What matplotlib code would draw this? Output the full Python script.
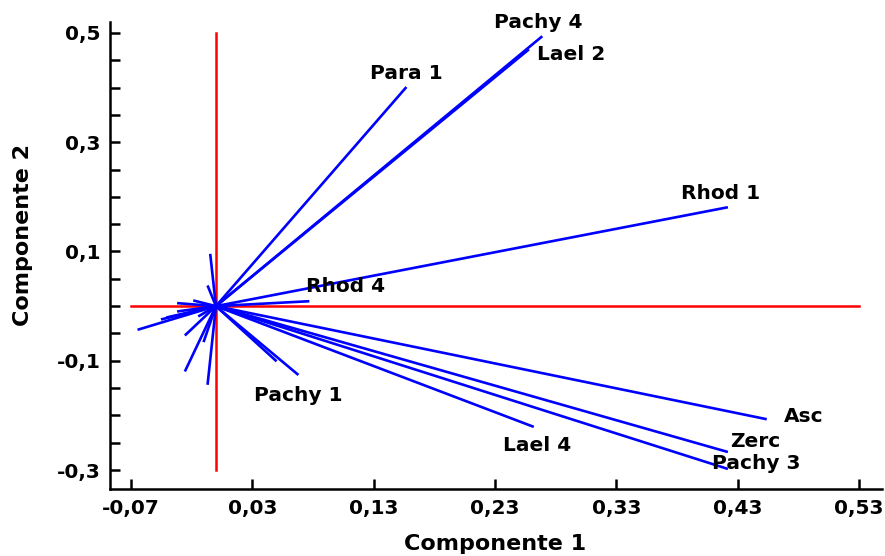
import matplotlib
matplotlib.use("Agg")
import matplotlib.pyplot as plt
from matplotlib.ticker import FixedLocator

plt.rcParams["font.family"] = ["DejaVu Sans"]
plt.rcParams["font.weight"] = "bold"

# loadings (Componente 1, Componente 2) for the labelled variables
names = ["Pachy 4", "Lael 2", "Para 1", "Rhod 1", "Rhod 4",
         "Asc", "Zerc", "Pachy 3", "Lael 4", "Pachy 1"]
comp1 = [0.269, 0.258, 0.157, 0.422, 0.077, 0.454, 0.422, 0.422, 0.262, 0.068]
comp2 = [0.494, 0.470, 0.401, 0.181, 0.009, -0.207, -0.267, -0.298, -0.221, -0.126]

# where each name sits (left edge, vertical centre)
label_x = [0.229, 0.265, 0.127, 0.383, 0.074, 0.468, 0.4237, 0.409, 0.2366, 0.0313]
label_y = [0.519, 0.460, 0.4256, 0.206, 0.0365, -0.2027, -0.248, -0.2886, -0.2557, -0.164]

# unlabelled variables clustered around the origin
small1 = [0.050, -0.0047, -0.0069, -0.032, -0.0187, -0.0646, -0.0453, -0.041,
          -0.032, -0.0146, -0.0256, -0.0102, -0.0256, -0.0069]
small2 = [-0.101, 0.0957, 0.0378, 0.0055, 0.0104, -0.0433, -0.0244, -0.021,
          -0.0098, -0.0189, -0.0537, -0.0659, -0.1196, -0.144]

x_ticks = [-0.07, 0.03, 0.13, 0.23, 0.33, 0.43, 0.53]
y_major = [-0.3, -0.1, 0.1, 0.3, 0.5]
y_all = [-0.3, -0.25, -0.2, -0.15, -0.1, -0.05, 0.0, 0.05, 0.1,
         0.15, 0.2, 0.25, 0.3, 0.35, 0.4, 0.45, 0.5]


def comma(v, digits):
    return f"{v:.{digits}f}".replace(".", ",")


fig = plt.figure(figsize=(8.85, 5.56), dpi=100)
ax = fig.add_axes([0.1243, 0.1205, 0.8723, 0.8399])
ax.set_xlim(-0.0873, 0.549)
ax.set_ylim(-0.3347, 0.520)

# reference axes through the origin
ax.plot([0, 0], [y_major[0], y_major[-1]], color="#ff0000", lw=1.8, zorder=2)
ax.plot([x_ticks[0], x_ticks[-1]], [0, 0], color="#ff0000", lw=1.8, zorder=2)

for x, y in zip(small1, small2):
    ax.plot([0, x], [0, y], color="#0000ff", lw=1.9, zorder=3, solid_capstyle="butt")
for x, y in zip(comp1, comp2):
    ax.plot([0, x], [0, y], color="#0000ff", lw=1.9, zorder=3, solid_capstyle="butt")

for name, lx, ly in zip(names, label_x, label_y):
    ax.text(lx, ly, name, fontsize=14.5, fontweight="bold", ha="left", va="center")

for side in ("top", "right"):
    ax.spines[side].set_visible(False)
for side in ("left", "bottom"):
    ax.spines[side].set_linewidth(1.8)

ax.xaxis.set_major_locator(FixedLocator(x_ticks))
ax.set_xticklabels([comma(v, 2) for v in x_ticks])
ax.yaxis.set_major_locator(FixedLocator(y_major))
ax.set_yticklabels([comma(v, 1) for v in y_major])
ax.yaxis.set_minor_locator(FixedLocator([v for v in y_all if v not in y_major]))
ax.tick_params(axis="both", which="both", direction="in", length=7, width=1.8,
               labelsize=14.5, pad=7)
for lab in ax.get_xticklabels() + ax.get_yticklabels():
    lab.set_fontweight("bold")

fig.text(0.559, 0.022, "Componente 1", fontsize=16, fontweight="bold",
         ha="center", va="center")
fig.text(0.026, 0.578, "Componente 2", fontsize=16, fontweight="bold",
         ha="center", va="center", rotation=90)

fig.savefig("out.png", dpi=100)
